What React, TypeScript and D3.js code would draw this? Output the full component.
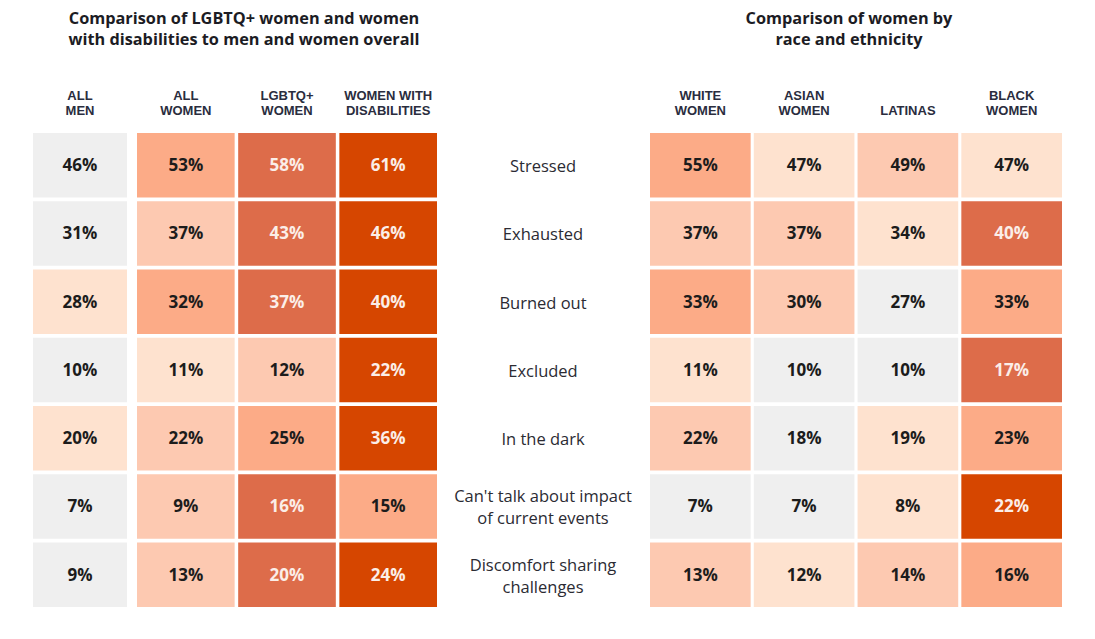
import React from "react";
import * as d3 from "d3";

const rowLabels: string[][] = [
  ["Stressed"],
  ["Exhausted"],
  ["Burned out"],
  ["Excluded"],
  ["In the dark"],
  ["Can't talk about impact", "of current events"],
  ["Discomfort sharing", "challenges"],
];

const leftTitle = ["Comparison of LGBTQ+ women and women", "with disabilities to men and women overall"];
const rightTitle = ["Comparison of women by", "race and ethnicity"];

const leftHeaders: string[][] = [
  ["ALL", "MEN"],
  ["ALL", "WOMEN"],
  ["LGBTQ+", "WOMEN"],
  ["WOMEN WITH", "DISABILITIES"],
];
const rightHeaders: string[][] = [
  ["WHITE", "WOMEN"],
  ["ASIAN", "WOMEN"],
  ["LATINAS"],
  ["BLACK", "WOMEN"],
];

// values per row (columns in order)
const leftValues: number[][] = [
  [46, 53, 58, 61],
  [31, 37, 43, 46],
  [28, 32, 37, 40],
  [10, 11, 12, 22],
  [20, 22, 25, 36],
  [7, 9, 16, 15],
  [9, 13, 20, 24],
];
// colour level per cell (0 = grey, 1..5 light to dark orange)
const leftLevels: number[][] = [
  [0, 3, 4, 5],
  [0, 2, 4, 5],
  [1, 3, 4, 5],
  [0, 1, 2, 5],
  [1, 2, 3, 5],
  [0, 2, 4, 3],
  [0, 2, 4, 5],
];

const rightValues: number[][] = [
  [55, 47, 49, 47],
  [37, 37, 34, 40],
  [33, 30, 27, 33],
  [11, 10, 10, 17],
  [22, 18, 19, 23],
  [7, 7, 8, 22],
  [13, 12, 14, 16],
];
const rightLevels: number[][] = [
  [3, 1, 2, 1],
  [2, 2, 1, 4],
  [3, 2, 0, 3],
  [1, 0, 0, 4],
  [2, 0, 1, 3],
  [0, 0, 1, 5],
  [2, 1, 2, 3],
];

const levelColors = ["#efefef", "#fee2cf", "#fdc9b1", "#fcab87", "#dd6c4a", "#d64600"];

const FONT = "'Open Sans', Lato, sans-serif";
const HEAD_FONT = "'Liberation Sans', Arial, sans-serif";
const W = 1095;
const H = 639;

export default function App() {
  const rows = d3.range(rowLabels.length);
  const y = d3.scaleBand<number>().domain(rows).range([133, 607]).paddingInner(0.055);

  const leftFirst = d3.scaleBand<number>().domain([0]).range([33, 127]);
  const leftRest = d3.scaleBand<number>().domain([1, 2, 3]).range([137, 437]).paddingInner(0.035);
  const leftX = (c: number) => (c === 0 ? leftFirst(0)! : leftRest(c)!);
  const leftW = (c: number) => (c === 0 ? leftFirst.bandwidth() : leftRest.bandwidth());

  const rightX = d3.scaleBand<number>().domain([0, 1, 2, 3]).range([650, 1062]).paddingInner(0.03);

  const color = d3.scaleOrdinal<number, string>().domain(d3.range(6)).range(levelColors);
  const textColor = (lvl: number) => (lvl >= 4 ? "#fbeee8" : "#1c1c1c");

  const renderGrid = (
    values: number[][],
    levels: number[][],
    xf: (c: number) => number,
    wf: (c: number) => number,
    key: string
  ) =>
    values.map((row, r) =>
      row.map((v, c) => {
        const x = xf(c);
        const w = wf(c);
        const yy = y(r)!;
        const lvl = levels[r][c];
        return (
          <g key={`${key}-${r}-${c}`}>
            <rect x={x} y={yy} width={w} height={y.bandwidth()} fill={color(lvl)} />
            <text
              x={x + w / 2}
              y={yy + y.bandwidth() / 2}
              dy="0.35em"
              textAnchor="middle"
              fontFamily={FONT}
              fontWeight={700}
              fontSize={17}
              fill={textColor(lvl)}
            >
              {v}%
            </text>
          </g>
        );
      })
    );

  const renderHeaders = (headers: string[][], xc: (c: number) => number, key: string) =>
    headers.map((lines, c) => (
      <text
        key={`${key}-h-${c}`}
        x={xc(c)}
        textAnchor="middle"
        fontFamily={HEAD_FONT}
        fontWeight={700}
        fontSize={13}
        fill="#2a2d3e"
      >
        {lines.map((l, i) => (
          <tspan key={i} x={xc(c)} y={115 - (lines.length - 1 - i) * 15.2}>
            {l}
          </tspan>
        ))}
      </text>
    ));

  const renderTitle = (lines: string[], cx: number, key: string) => (
    <text key={key} textAnchor="middle" fontFamily={FONT} fontWeight={700} fontSize={16.3} fill="#1c1c24">
      {lines.map((l, i) => (
        <tspan key={i} x={cx} y={24 + i * 21}>
          {l}
        </tspan>
      ))}
    </text>
  );

  return (
    <div style={{ position: "absolute", left: 0, top: 0 }}>
      <svg width={W} height={H} style={{ display: "block", background: "#ffffff" }}>
        {renderTitle(leftTitle, 244, "lt")}
        {renderTitle(rightTitle, 849, "rt")}
        {renderHeaders(leftHeaders, (c) => leftX(c) + leftW(c) / 2, "l")}
        {renderHeaders(rightHeaders, (c) => rightX(c)! + rightX.bandwidth() / 2, "r")}
        {renderGrid(leftValues, leftLevels, leftX, leftW, "l")}
        {renderGrid(rightValues, rightLevels, (c) => rightX(c)!, () => rightX.bandwidth(), "r")}
        {rowLabels.map((lines, r) => {
          const cy = y(r)! + y.bandwidth() / 2 + 1;
          return (
            <text
              key={`rl-${r}`}
              textAnchor="middle"
              fontFamily={FONT}
              fontSize={16.5}
              fill="#2b2b33"
            >
              {lines.map((l, i) => (
                <tspan key={i} x={543} y={cy + (i - (lines.length - 1) / 2) * 22} dy="0.35em">
                  {l}
                </tspan>
              ))}
            </text>
          );
        })}
      </svg>
    </div>
  );
}
